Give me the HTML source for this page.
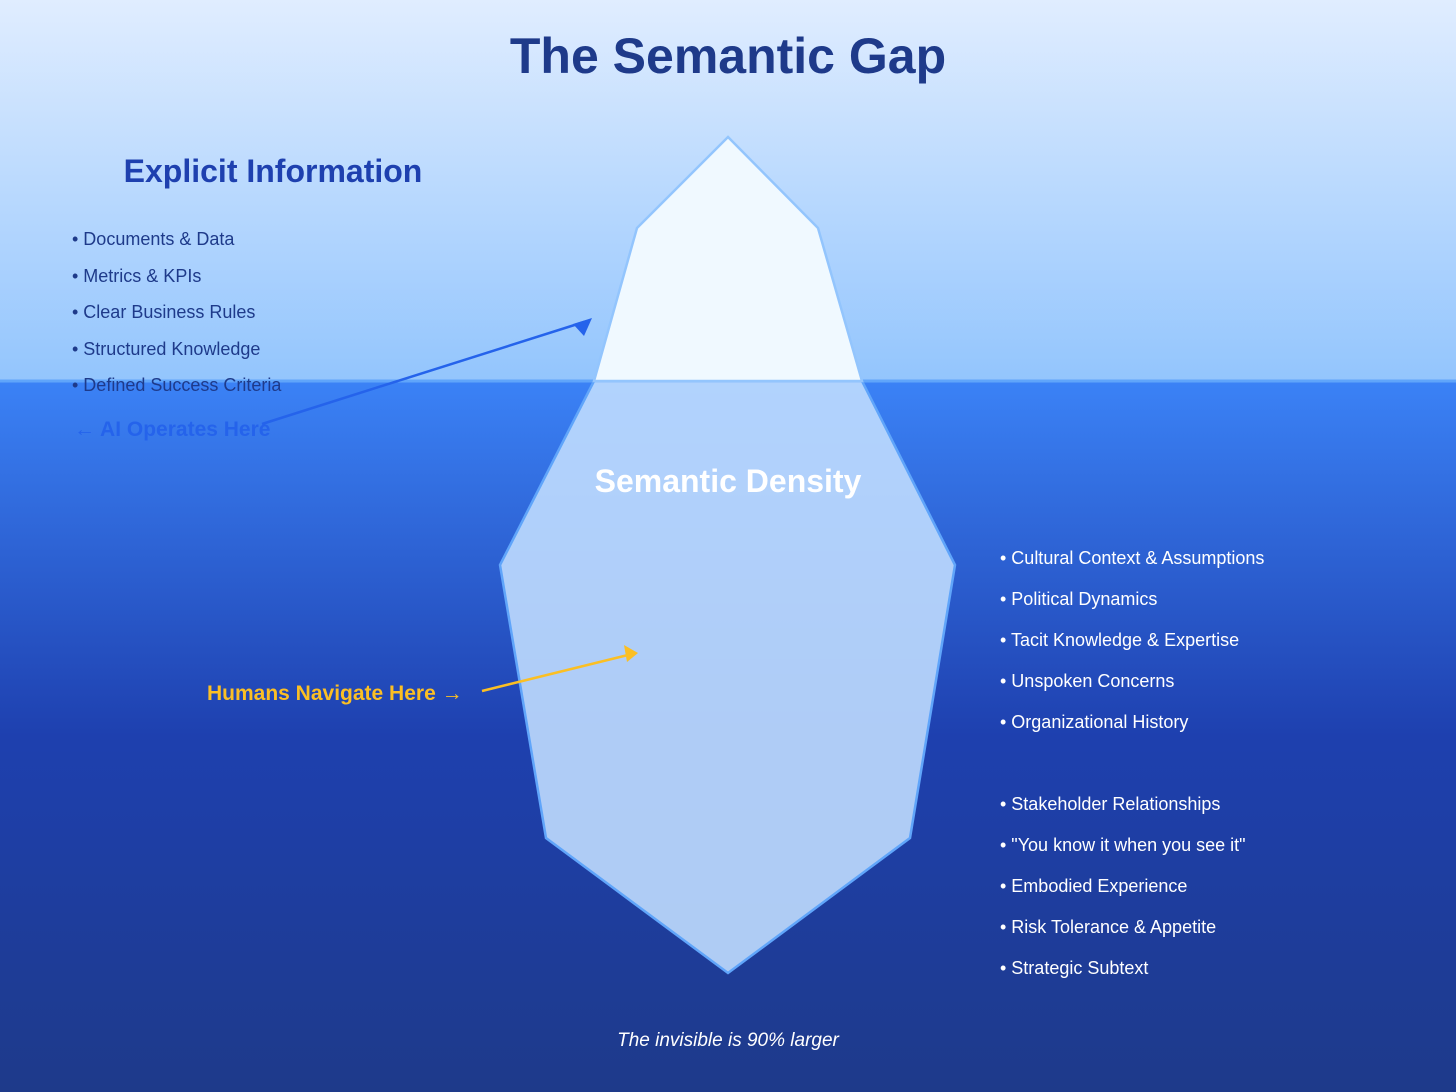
<!DOCTYPE html>
<html><head><meta charset="utf-8"><style>html,body{margin:0;padding:0;}svg{display:block;}</style></head>
<body>
<svg width="1456" height="1092" viewBox="0 0 1456 1092" xmlns="http://www.w3.org/2000/svg" font-family="Liberation Sans, Arial, sans-serif">
<defs>
<linearGradient id="sky" x1="0" y1="0" x2="0" y2="1"><stop offset="0" stop-color="#e0edff"/><stop offset="1" stop-color="#93c5fd"/></linearGradient>
<linearGradient id="sea" x1="0" y1="0" x2="0" y2="1"><stop offset="0" stop-color="#3b82f6"/><stop offset="0.5" stop-color="#1e40af"/><stop offset="1" stop-color="#1e3a8a"/></linearGradient>
</defs>
<rect x="0" y="0" width="1456" height="381" fill="url(#sky)"/>
<rect x="0" y="381" width="1456" height="711" fill="url(#sea)"/>
<line x1="0" y1="381" x2="1456" y2="381" stroke="#60a5fa" stroke-width="3"/>
<polygon points="594,381 862,381 955,565 910,838 728,973 546,838 500,565" fill="#bfdbfe" fill-opacity="0.9" stroke="#60a5fa" stroke-width="2.5"/>
<polygon points="728,137 818,228 862,381 594,381 637,228" fill="#f0f9ff" stroke="#93c5fd" stroke-width="2.5"/>
<text x="728" y="73" text-anchor="middle" font-size="50" font-weight="bold" fill="#1e3a8a">The Semantic Gap</text>
<text x="273" y="182" text-anchor="middle" font-size="32" font-weight="bold" fill="#1e40af">Explicit Information</text>
<g font-size="18" fill="#1e3a8a">
<text x="72" y="245">• Documents &amp; Data</text>
<text x="72" y="282">• Metrics &amp; KPIs</text>
<text x="72" y="318">• Clear Business Rules</text>
<text x="72" y="355">• Structured Knowledge</text>
<text x="72" y="391">• Defined Success Criteria</text>
</g>
<text x="74" y="436" font-size="21" font-weight="bold" fill="#2563eb">← AI Operates Here</text>
<line x1="262" y1="424" x2="584" y2="322" stroke="#2563eb" stroke-width="2.5"/>
<polygon points="592,318 573,324 584,336" fill="#2563eb"/>
<text x="728" y="492" text-anchor="middle" font-size="32" font-weight="bold" fill="#ffffff">Semantic Density</text>
<text x="207" y="700" font-size="21" font-weight="bold" fill="#fbbf24">Humans Navigate Here →</text>
<line x1="482" y1="691" x2="628" y2="655" stroke="#fbbf24" stroke-width="2.5"/>
<polygon points="638,653 624,645 627,662" fill="#fbbf24"/>
<g font-size="18" fill="#ffffff">
<text x="1000" y="564">• Cultural Context &amp; Assumptions</text>
<text x="1000" y="605">• Political Dynamics</text>
<text x="1000" y="646">• Tacit Knowledge &amp; Expertise</text>
<text x="1000" y="687">• Unspoken Concerns</text>
<text x="1000" y="728">• Organizational History</text>
<text x="1000" y="810">• Stakeholder Relationships</text>
<text x="1000" y="851">• "You know it when you see it"</text>
<text x="1000" y="892">• Embodied Experience</text>
<text x="1000" y="933">• Risk Tolerance &amp; Appetite</text>
<text x="1000" y="974">• Strategic Subtext</text>
</g>
<text x="728" y="1046" text-anchor="middle" font-size="19" font-style="italic" fill="#ffffff">The invisible is 90% larger</text>
</svg>
</body></html>
